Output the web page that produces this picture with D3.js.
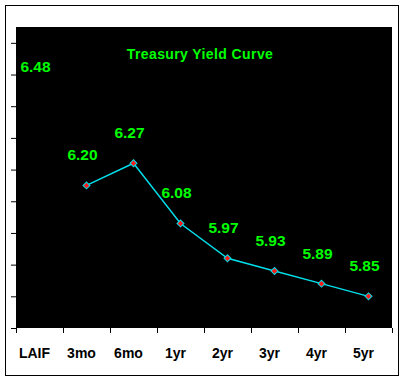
<!DOCTYPE html>
<html>
<head>
<meta charset="utf-8">
<script src="https://cdn.jsdelivr.net/npm/d3@7"></script>
<style>
  html, body { margin: 0; padding: 0; background: #ffffff; }
  svg { display: block; }
</style>
</head>
<body>
<svg id="chart" width="405" height="381"></svg>
<script>
// ---- data ----
const categories = ["LAIF", "3mo", "6mo", "1yr", "2yr", "3yr", "4yr", "5yr"];
const yields = [6.48, 6.20, 6.27, 6.08, 5.97, 5.93, 5.89, 5.85];
const curveYields = [null, 6.20, 6.27, 6.08, 5.97, 5.93, 5.89, 5.85];
const yDomain = [5.75, 6.70];
const yTicks = [5.75, 5.85, 5.95, 6.05, 6.15, 6.25, 6.35, 6.45, 6.55, 6.65];
const titleText = "Treasury Yield Curve";

// ---- layout ----
const W = 405, H = 381;
const plot = { left: 16, right: 392, top: 27, bottom: 328 };
const font = "'Liberation Sans', Arial, sans-serif";
const green = "#00ff00";
const cyan = "#00e0ec";

const svg = d3.select("#chart");

// outer frame
svg.append("rect")
  .attr("x", 5.5).attr("y", 5.5)
  .attr("width", 393).attr("height", 370)
  .attr("fill", "#ffffff").attr("stroke", "#000000").attr("stroke-width", 1);

// plot background
svg.append("rect")
  .attr("x", plot.left).attr("y", plot.top)
  .attr("width", plot.right - plot.left).attr("height", plot.bottom - plot.top)
  .attr("fill", "#000000");

// scales
const x = d3.scaleBand().domain(categories).range([plot.left, plot.right]).padding(0);
const xEdge = d3.scaleLinear().domain([0, categories.length]).range([plot.left, plot.right]);
const y = d3.scaleLinear().domain(yDomain).range([plot.bottom, plot.top]);
const cx = d => x(d) + x.bandwidth() / 2;

// y axis (ticks only)
const yAxis = svg.append("g")
  .attr("transform", `translate(${plot.left},0)`)
  .call(d3.axisLeft(y).tickValues(yTicks).tickSize(5).tickSizeOuter(0).tickFormat(""));
yAxis.select(".domain").remove();
yAxis.selectAll(".tick line").attr("stroke", "#000").attr("stroke-width", 1);

// x axis ticks at band edges
const xAxis = svg.append("g")
  .attr("transform", `translate(0,${plot.bottom})`)
  .call(d3.axisBottom(xEdge).tickValues(d3.range(0, categories.length + 1)).tickSize(5).tickSizeOuter(0).tickFormat(""));
xAxis.select(".domain").remove();
xAxis.selectAll(".tick line").attr("stroke", "#000").attr("stroke-width", 1);

// x category labels
svg.append("g").selectAll("text")
  .data(categories)
  .join("text")
  .attr("x", d => cx(d) - 5)
  .attr("y", 358)
  .attr("text-anchor", "middle")
  .attr("font-family", font)
  .attr("font-size", 14)
  .attr("font-weight", "bold")
  .attr("fill", "#000")
  .text(d => d);

// title
svg.append("text")
  .attr("x", 200)
  .attr("y", 59)
  .attr("text-anchor", "middle")
  .attr("font-family", font)
  .attr("font-size", 14)
  .attr("font-weight", "bold")
  .attr("letter-spacing", 0.4)
  .attr("fill", green)
  .text(titleText);

// line
const pts = categories.map((c, i) => ({ c, v: curveYields[i] }));
const line = d3.line()
  .defined(d => d.v != null)
  .x(d => cx(d.c))
  .y(d => y(d.v));
svg.append("path")
  .datum(pts)
  .attr("d", line)
  .attr("fill", "none")
  .attr("stroke", cyan)
  .attr("stroke-width", 1.4);

// markers (diamonds)
svg.append("g").selectAll("path")
  .data(pts.filter(d => d.v != null))
  .join("path")
  .attr("d", d3.symbol(d3.symbolSquare, 24))
  .attr("transform", d => `translate(${cx(d.c)},${y(d.v)}) rotate(45)`)
  .attr("fill", "#ff1a1a")
  .attr("stroke", cyan)
  .attr("stroke-width", 1);

// value labels
svg.append("g").selectAll("text")
  .data(categories.map((c, i) => ({ c, v: yields[i] })))
  .join("text")
  .attr("x", d => cx(d.c) - 4)
  .attr("y", d => y(d.v) - 25)
  .attr("text-anchor", "middle")
  .attr("font-family", font)
  .attr("font-size", 15.5)
  .attr("font-weight", "bold")
  .attr("fill", green)
  .text(d => d3.format(".2f")(d.v));
</script>
</body>
</html>
